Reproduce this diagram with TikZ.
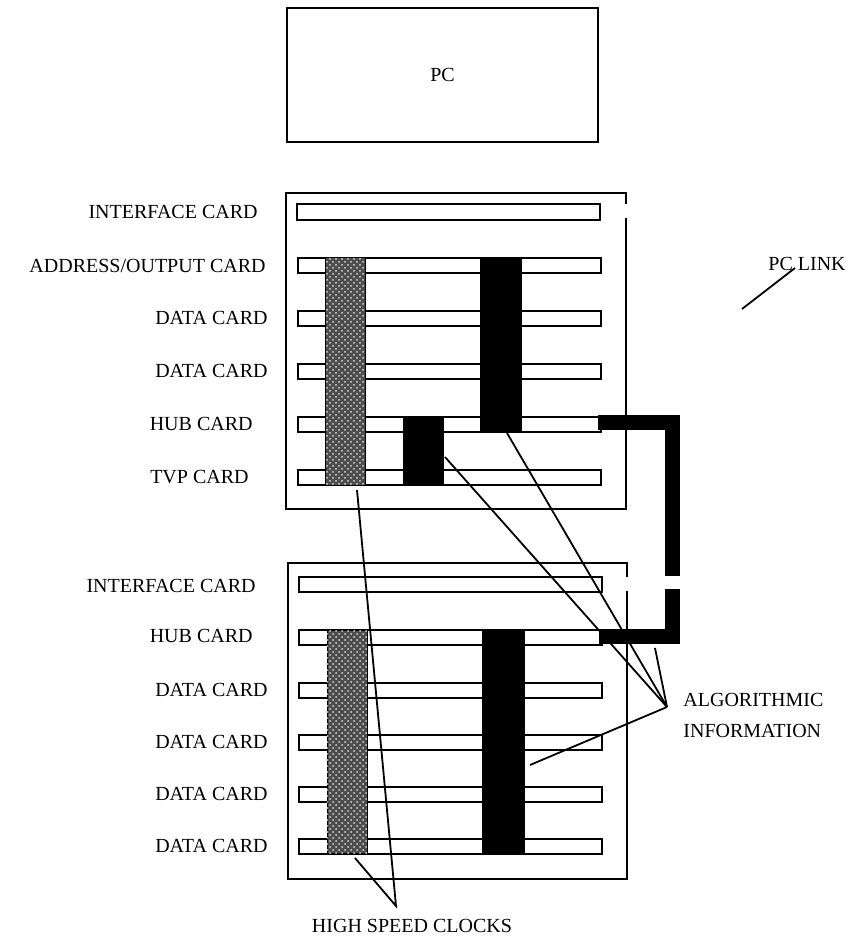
\documentclass[tikz,border=0pt]{standalone}
\usepackage{fontspec}
\setmainfont{Liberation Serif}
\usetikzlibrary{positioning, patterns}

\begin{document}
\begin{tikzpicture}[x=0.5pt, y=-0.5pt,
    card/.style={draw, fill=white, line width=1pt},
    rack/.style={draw, line width=1pt},
    clockbar/.style={fill=black!70, draw=black, line width=0.4pt,
                     postaction={pattern=crosshatch dots, pattern color=white!85!black}},
    algbar/.style={fill=black},
    lbl/.style={font=\fontsize{10}{15.5}\selectfont, inner sep=0pt},
    leader/.style={line width=0.9pt},
    pclink/.style={line width=7.5pt}
  ]

  \useasboundingbox (0,0) rectangle (851,937);

  % the PC
  \node[draw, line width=1pt, minimum width=155.5pt, minimum height=67pt,
        lbl] (pc) at (442.5,75) {PC};

  % upper rack
  \draw[rack] (626,204) -- (626,193) -- (286,193) -- (286,509)
              -- (626,509) -- (626,218);
  \draw[card] (297,204) rectangle (600,220);
  \foreach \y in {265,318,371,424,477}
    \draw[card] (298,\y-7.5) rectangle (601,\y+7.5);

  % lower rack
  \draw[rack] (627,577) -- (627,563) -- (288,563) -- (288,879)
              -- (627,879) -- (627,591);
  \foreach \y in {584,637,690,742,794,846}
    \draw[card] (299,\y-7.5) rectangle (602,\y+7.5);

  % clock and algorithm buses
  \draw[clockbar] (325,257) rectangle (365,485);
  \fill[algbar] (480,257) rectangle (522,431);
  \fill[algbar] (403,417) rectangle (444,485);
  \draw[clockbar] (327,630) rectangle (367,853);
  \fill[algbar] (482,630) rectangle (525,853);

  % link between the hub cards
  \draw[pclink] (598,422) -- (672,422) -- (672,576);
  \draw[pclink] (672,589) -- (672,636) -- (599,636);

  % card names
  \node[lbl, anchor=east] (ifa) at (258,212) {INTERFACE CARD};
  \node[lbl, anchor=east] (ado) at (266,266) {ADDRESS/OUTPUT CARD};
  \node[lbl, anchor=east] (dta) at (268,318) {DATA CARD};
  \node[lbl, anchor=east] (dtb) at (268,371) {DATA CARD};
  \node[lbl, anchor=east] (hba) at (253,424) {HUB CARD};
  \node[lbl, anchor=east] (tvp) at (249,477) {TVP CARD};

  \node[lbl, anchor=east] (ifb) at (256,586) {INTERFACE CARD};
  \node[lbl, anchor=east] (hbb) at (253,636) {HUB CARD};
  \node[lbl, anchor=east] (dtc) at (268,690) {DATA CARD};
  \node[lbl, anchor=east] (dtd) at (268,742) {DATA CARD};
  \node[lbl, anchor=east] (dte) at (268,794) {DATA CARD};
  \node[lbl, anchor=east] (dtf) at (268,846) {DATA CARD};

  % callouts
  \node[lbl, anchor=west] (link) at (768,264) {PC LINK};
  \coordinate (linkfoot) at (742,309);
  \coordinate (linktip) at (795,268);
  \draw[leader] (linkfoot) -- (linktip);

  \node[lbl, anchor=west, align=left] (alg) at (683,715.5)
    {ALGORITHMIC\\INFORMATION};
  \coordinate (algpt) at (667,707);
  \coordinate (alga) at (445,457);
  \coordinate (algb) at (507,433);
  \coordinate (algc) at (655,648);
  \coordinate (algd) at (530,765);
  \foreach \c in {alga,algb,algc,algd}
    \draw[leader] (algpt) -- (\c);

  \node[lbl] (clk) at (412,926) {HIGH SPEED CLOCKS};
  \coordinate (clkpt) at (396,906);
  \coordinate (clka) at (357,490);
  \coordinate (clkb) at (355,858);
  \draw[leader] (clka) -- (clkpt) -- (clkb);

\end{tikzpicture}
\end{document}
